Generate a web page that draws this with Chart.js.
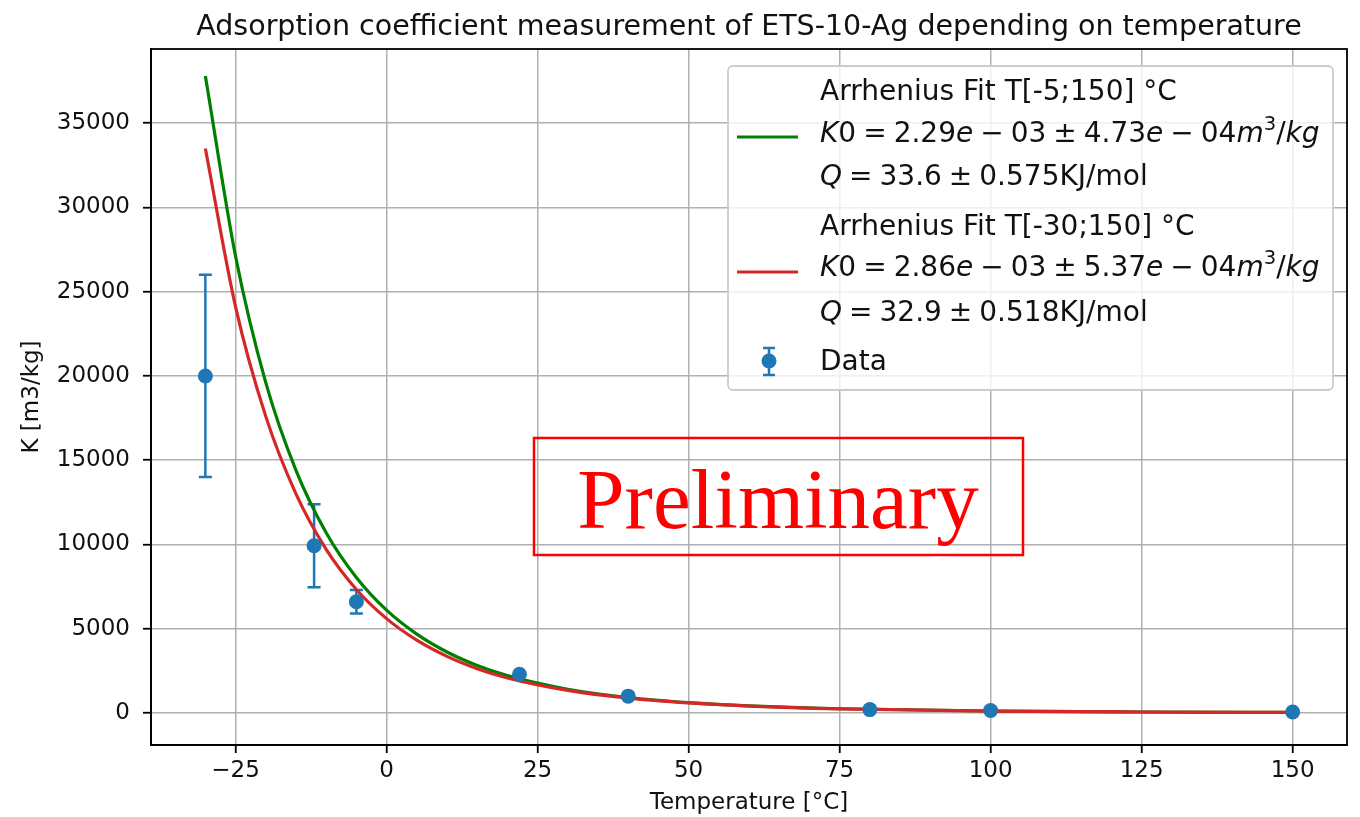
<!DOCTYPE html>
<html>
<head>
<meta charset="utf-8">
<script src="https://cdn.jsdelivr.net/npm/chart.js@4.4.1/dist/chart.umd.min.js"></script>
<style>
  html, body { margin: 0; padding: 0; background: #fff; }
  #wrap { width: 1360px; height: 817px; }
</style>
</head>
<body>
<div id="wrap"><canvas id="chart" width="1360" height="817"></canvas></div>
<script>
// 测量数据 (温度 °C, K m3/kg)
const tempData = [-30, -12, -5, 22, 40, 80, 100, 150];
const kData = [20000, 9920, 6600, 2300, 1000, 200, 150, 60];
const kErr = [6000, 2460, 700, 0, 0, 0, 0, 0];

// 拟合曲线
const fitTemps = [-30, -25, -20, -15, -10, -5, 0, 5, 10, 15, 20, 30, 40, 50, 60, 75, 100, 125, 150];
const fitGreen = [37800, 27100, 19600, 14400, 10700, 8040, 6100, 4680, 3620, 2820, 2220, 1410, 920, 620, 425, 250, 116, 59, 32];
const fitRed = [33500, 24100, 17600, 13000, 9710, 7330, 5600, 4320, 3360, 2630, 2080, 1340, 880, 595, 412, 247, 115, 59, 33];

// 刻度
const xTicks = [-25, 0, 25, 50, 75, 100, 125, 150];
const yTicks = [0, 5000, 10000, 15000, 20000, 25000, 30000, 35000];

const FONT = '"DejaVu Sans", sans-serif';
const BLUE = '#1f77b4';
const GREEN = '#008000';
const RED = '#d62728';

// 图例文字 (n 正体, i 斜体, s 上标; m 为公式, 空格较窄)
const legendGreen = [
  [['Arrhenius Fit T[-5;150] °C', 'n']],
  [['K', 'i'], ['0 = 2.29', 'm'], ['e', 'i'], [' − 03 ± 4.73', 'm'], ['e', 'i'], [' − 04', 'm'], ['m', 'i'], ['3', 's'], ['/', 'n'], ['kg', 'i']],
  [['Q', 'i'], [' = 33.6 ± 0.575KJ/mol', 'm']]
];
const legendRed = [
  [['Arrhenius Fit T[-30;150] °C', 'n']],
  [['K', 'i'], ['0 = 2.86', 'm'], ['e', 'i'], [' − 03 ± 5.37', 'm'], ['e', 'i'], [' − 04', 'm'], ['m', 'i'], ['3', 's'], ['/', 'n'], ['kg', 'i']],
  [['Q', 'i'], [' = 32.9 ± 0.518KJ/mol', 'm']]
];

function drawRich(ctx, spans, x, y, size) {
  spans.forEach(([txt, st]) => {
    let f = size, dy = 0, style = '';
    if (st === 'i') style = 'italic ';
    if (st === 's') { f = size * 0.7; dy = -size * 0.42; }
    ctx.font = `${style}${f}px ${FONT}`;
    if (st === 'm') {
      // 公式里的空格稍窄
      txt.split(' ').forEach((part, k) => {
        if (k > 0) x += size * 0.25;
        ctx.fillText(part, x, y);
        x += ctx.measureText(part).width;
      });
      return;
    }
    ctx.fillText(txt, x, y + dy);
    x += ctx.measureText(txt).width;
  });
  return x;
}

const extras = {
  id: 'extras',
  beforeDatasetsDraw(chart) {
    const { ctx, scales: { x, y } } = chart;
    // 误差棒
    ctx.save();
    ctx.strokeStyle = BLUE;
    ctx.lineWidth = 2.5;
    tempData.forEach((t, i) => {
      if (!kErr[i]) return;
      const px = x.getPixelForValue(t);
      const top = y.getPixelForValue(kData[i] + kErr[i]);
      const bot = y.getPixelForValue(kData[i] - kErr[i]);
      ctx.beginPath();
      ctx.moveTo(px, top); ctx.lineTo(px, bot);
      ctx.moveTo(px - 6.5, top); ctx.lineTo(px + 6.5, top);
      ctx.moveTo(px - 6.5, bot); ctx.lineTo(px + 6.5, bot);
      ctx.stroke();
    });
    ctx.restore();
  },
  afterDraw(chart) {
    const { ctx, chartArea: a } = chart;
    ctx.save();

    // 外框
    ctx.strokeStyle = '#000';
    ctx.lineWidth = 1.8;
    ctx.strokeRect(a.left, a.top, a.right - a.left, a.bottom - a.top);

    // 标题
    ctx.fillStyle = '#111';
    ctx.font = `28.5px ${FONT}`;
    ctx.textAlign = 'center';
    ctx.textBaseline = 'alphabetic';
    ctx.fillText('Adsorption coefficient measurement of ETS-10-Ag depending on temperature', (a.left + a.right) / 2, 35);

    // 图例框
    ctx.beginPath();
    ctx.roundRect(728, 66, 605, 324, 5);
    ctx.fillStyle = 'rgba(255,255,255,0.8)';
    ctx.fill();
    ctx.strokeStyle = '#cccccc';
    ctx.lineWidth = 1.8;
    ctx.stroke();

    // 图例线
    ctx.lineWidth = 3.2;
    ctx.strokeStyle = GREEN;
    ctx.beginPath(); ctx.moveTo(737, 137); ctx.lineTo(798, 137); ctx.stroke();
    ctx.strokeStyle = RED;
    ctx.beginPath(); ctx.moveTo(737, 272); ctx.lineTo(798, 272); ctx.stroke();

    // 图例数据标记
    ctx.strokeStyle = BLUE;
    ctx.lineWidth = 2.5;
    ctx.beginPath();
    ctx.moveTo(769, 348); ctx.lineTo(769, 375);
    ctx.moveTo(763, 348); ctx.lineTo(775, 348);
    ctx.moveTo(763, 375); ctx.lineTo(775, 375);
    ctx.stroke();
    ctx.fillStyle = BLUE;
    ctx.beginPath(); ctx.arc(769, 361, 7.5, 0, Math.PI * 2); ctx.fill();

    // 图例文字
    ctx.fillStyle = '#111';
    ctx.textAlign = 'left';
    const base1 = [100, 142, 185];
    const base2 = [235, 276, 321];
    legendGreen.forEach((ln, i) => drawRich(ctx, ln, 820, base1[i], 28));
    legendRed.forEach((ln, i) => drawRich(ctx, ln, 820, base2[i], 28));
    drawRich(ctx, [['Data', 'n']], 820, 370, 28);

    // Preliminary 标记
    ctx.strokeStyle = '#ff0000';
    ctx.lineWidth = 2.5;
    ctx.strokeRect(534, 438, 489, 117);
    ctx.fillStyle = '#ff0000';
    ctx.font = '85px "Liberation Serif", serif';
    ctx.textAlign = 'center';
    ctx.fillText('Preliminary', 778, 528);

    ctx.restore();
  }
};

const ctx = document.getElementById('chart').getContext('2d');
new Chart(ctx, {
  type: 'scatter',
  data: {
    datasets: [{
      label: 'Data',
      data: tempData.map((t, i) => ({ x: t, y: kData[i] })),
      backgroundColor: BLUE,
      borderWidth: 0,
      pointRadius: 7.5,
      order: 0
    }, {
      label: 'Arrhenius Fit T[-30;150] °C',
      data: fitTemps.map((t, i) => ({ x: t, y: fitRed[i] })),
      showLine: true,
      borderColor: RED,
      borderWidth: 3.2,
      pointRadius: 0,
      cubicInterpolationMode: 'monotone',
      order: 1
    }, {
      label: 'Arrhenius Fit T[-5;150] °C',
      data: fitTemps.map((t, i) => ({ x: t, y: fitGreen[i] })),
      showLine: true,
      borderColor: GREEN,
      borderWidth: 3.2,
      pointRadius: 0,
      cubicInterpolationMode: 'monotone',
      order: 2
    }]
  },
  options: {
    responsive: false,
    animation: false,
    devicePixelRatio: 1,
    layout: { padding: { top: 49, right: 13, left: 0, bottom: 0 } },
    plugins: {
      legend: { display: false },
      tooltip: { enabled: false }
    },
    scales: {
      x: {
        type: 'linear',
        min: -39,
        max: 159,
        afterBuildTicks: s => { s.ticks = xTicks.map(v => ({ value: v })); },
        afterFit: s => { s.height = 72; },
        ticks: {
          font: { family: FONT, size: 23 },
          color: '#111',
          padding: 4,
          maxRotation: 0,
          callback: v => v < 0 ? '\u2212' + Math.abs(v) : String(v)
        },
        grid: { color: '#b0b0b0', lineWidth: 1.5, tickColor: '#000', tickLength: 8, tickWidth: 1.8 },
        border: { color: '#000', width: 1.8 },
        title: { display: true, text: 'Temperature [°C]', font: { family: FONT, size: 23 }, color: '#111', padding: { top: 0, bottom: 0 } }
      },
      y: {
        type: 'linear',
        min: -1900,
        max: 39400,
        afterBuildTicks: s => { s.ticks = yTicks.map(v => ({ value: v })); },
        afterFit: s => { s.width = 151; },
        ticks: {
          font: { family: FONT, size: 23 },
          color: '#111',
          padding: 13,
          callback: v => String(v)
        },
        grid: { color: '#b0b0b0', lineWidth: 1.5, tickColor: '#000', tickLength: 8, tickWidth: 1.8 },
        border: { color: '#000', width: 1.8 },
        title: { display: true, text: 'K [m3/kg]', font: { family: FONT, size: 23 }, color: '#111', padding: { top: 18, bottom: 0 } }
      }
    }
  },
  plugins: [extras]
});
</script>
</body>
</html>
